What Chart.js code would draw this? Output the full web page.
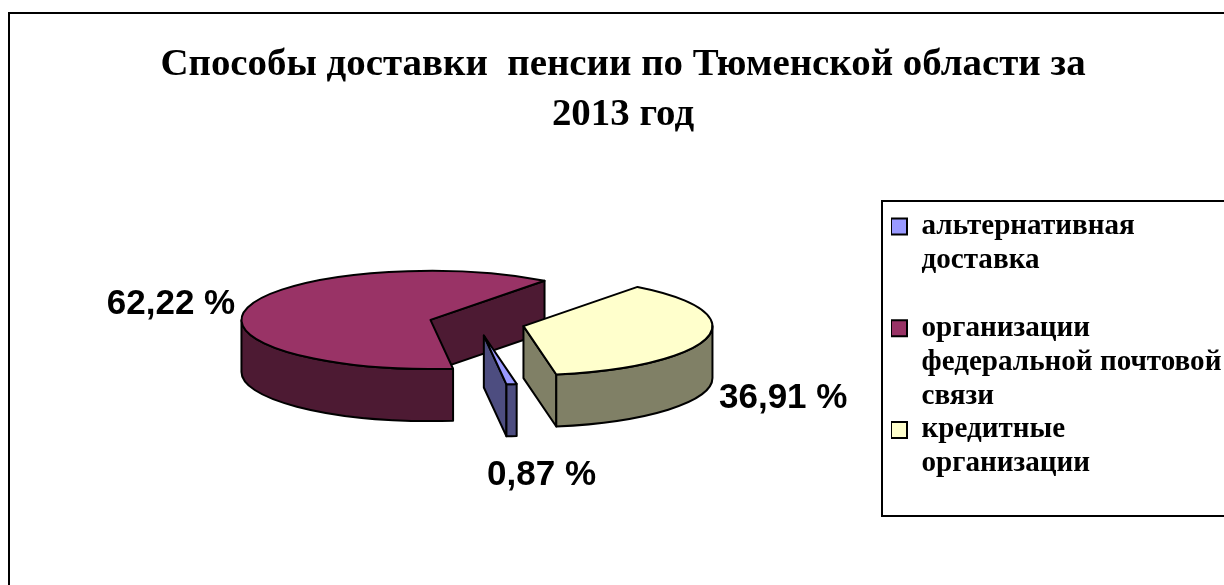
<!DOCTYPE html>
<html lang="ru">
<head>
<meta charset="utf-8">
<title>Способы доставки пенсии</title>
<script src="https://cdn.jsdelivr.net/npm/chart.js@4"></script>
<style>
  html, body { margin: 0; padding: 0; background: #fff; overflow: hidden; }
  #page { position: relative; width: 1224px; height: 585px; overflow: hidden; }
  #frame { position: absolute; left: 8px; top: 12px; width: 1224px; height: 640px; border: 2px solid #000; }
</style>
</head>
<body>
<div id="page"><div id="frame"><canvas id="pieChart" width="1224" height="640"></canvas></div></div>
<script>
const titleLines = ['Способы доставки  пенсии по Тюменской области за', '2013 год'];
const categories = ['альтернативная доставка', 'организации федеральной почтовой связи', 'кредитные организации'];
const legendLines = [
  ['альтернативная', 'доставка', ''],
  ['организации', 'федеральной почтовой', 'связи'],
  ['кредитные', 'организации']
];
const shares = [0.87, 62.22, 36.91];
const topColors = ['#9999ff', '#993366', '#ffffcc'];
const wallColors = ['#4d4d80', '#4d1a33', '#808066'];

const squash = 0.26;     // how flat the tilted pie looks
const depth = 52;        // height of the pie walls
const explode = 48;      // pulled out by hand, the arc offset option also resizes the arc
const radius = 189;
// where each percent label sits, relative to the rim of its slice
const labelShift = [[30, 91], [-77, -3], [76, 61]];

const formatShare = v => v.toFixed(2).replace('.', ',') + ' %';

const slicePie = {
  id: 'slicePie',
  beforeDatasetDraw(chart) {
    const ctx = chart.ctx;
    const arcs = chart.getDatasetMeta(0).data;

    const centerOf = arc => {
      const mid = (arc.startAngle + arc.endAngle) / 2;
      return { x: arc.x + Math.cos(mid) * explode, y: arc.y + Math.sin(mid) * explode * squash, mid };
    };

    const order = arcs.map((a, i) => i).sort((p, q) => centerOf(arcs[p]).y - centerOf(arcs[q]).y);

    ctx.save();
    ctx.lineWidth = 2;
    ctx.lineJoin = 'round';
    ctx.strokeStyle = '#000';

    order.forEach(i => {
      const arc = arcs[i];
      const c = centerOf(arc);
      const rx = arc.outerRadius;
      const ry = rx * squash;
      const a = arc.startAngle;
      const b = arc.endAngle;

      // flat side walls facing the viewer
      [[a, -Math.cos(a)], [b, Math.cos(b)]].forEach(([angle, facing]) => {
        if (facing <= 0) return;
        const ex = c.x + Math.cos(angle) * rx;
        const ey = c.y + Math.sin(angle) * ry;
        ctx.beginPath();
        ctx.moveTo(c.x, c.y);
        ctx.lineTo(ex, ey);
        ctx.lineTo(ex, ey + depth);
        ctx.lineTo(c.x, c.y + depth);
        ctx.closePath();
        ctx.fillStyle = wallColors[i];
        ctx.fill();
        ctx.stroke();
      });

      // curved outer wall, only the front half of the ring shows
      [[0, Math.PI], [2 * Math.PI, 3 * Math.PI]].forEach(([w0, w1]) => {
        const lo = Math.max(a, w0);
        const hi = Math.min(b, w1);
        if (lo >= hi) return;
        ctx.beginPath();
        ctx.ellipse(c.x, c.y, rx, ry, 0, lo, hi);
        ctx.ellipse(c.x, c.y + depth, rx, ry, 0, hi, lo, true);
        ctx.closePath();
        ctx.fillStyle = wallColors[i];
        ctx.fill();
        ctx.stroke();
      });

      // top face comes from the chart's own arc, flattened
      ctx.save();
      ctx.translate(c.x, c.y);
      ctx.scale(1, squash);
      ctx.translate(-arc.x, -arc.y);
      arc.draw(ctx);
      ctx.restore();

      ctx.beginPath();
      ctx.moveTo(c.x, c.y);
      ctx.ellipse(c.x, c.y, rx, ry, 0, a, b);
      ctx.closePath();
      ctx.stroke();
    });

    // percent labels
    ctx.fillStyle = '#000';
    ctx.font = 'bold 35px "Liberation Sans", Arial, sans-serif';
    ctx.textAlign = 'center';
    ctx.textBaseline = 'middle';
    arcs.forEach((arc, i) => {
      const c = centerOf(arc);
      const x = c.x + Math.cos(c.mid) * arc.outerRadius + labelShift[i][0];
      const y = c.y + Math.sin(c.mid) * arc.outerRadius * squash + labelShift[i][1];
      ctx.fillText(formatShare(shares[i]), x, y);
    });
    ctx.restore();
    return false;
  },
  afterLayout(chart) {
    // legend goes where the reference has it, running off the right edge
    const legend = chart.legend;
    legend.left = 881;
    legend.right = 1300;
    legend.top = 198;
    legend.bottom = 560;
    chart.titleBlock.left = 0;
    chart.titleBlock.right = chart.width + 2;
  },
  afterDraw(chart) {
    const ctx = chart.ctx;
    ctx.save();
    ctx.lineWidth = 2;
    ctx.strokeStyle = '#000';
    ctx.strokeRect(872, 187, 420, 315);
    ctx.restore();
  }
};

new Chart(document.getElementById('pieChart'), {
  type: 'pie',
  data: {
    labels: categories,
    datasets: [{
      data: shares,
      backgroundColor: topColors,
      borderWidth: 0,
      radius: radius
    }]
  },
  options: {
    responsive: false,
    animation: false,
    rotation: 170,
    radius: radius,
    layout: { padding: { left: 50, bottom: 148 } },
    plugins: {
      tooltip: { enabled: false },
      title: {
        display: true,
        text: titleLines,
        color: '#000',
        font: { family: '"Liberation Serif", "Times New Roman", serif', size: 38.9, weight: 'bold', lineHeight: 1.29 },
        padding: { top: 26, bottom: 0 }
      },
      legend: {
        position: 'right',
        align: 'start',
        labels: {
          boxWidth: 16,
          boxHeight: 16,
          padding: 0,
          color: '#000',
          font: { family: '"Liberation Serif", "Times New Roman", serif', size: 29.1, weight: 'bold', lineHeight: 1.165 },
          generateLabels: () => legendLines.map((lines, i) => ({
            text: lines,
            fillStyle: topColors[i],
            strokeStyle: '#000',
            lineWidth: 2,
            index: i
          }))
        }
      }
    }
  },
  plugins: [slicePie]
});
</script>
</body>
</html>
